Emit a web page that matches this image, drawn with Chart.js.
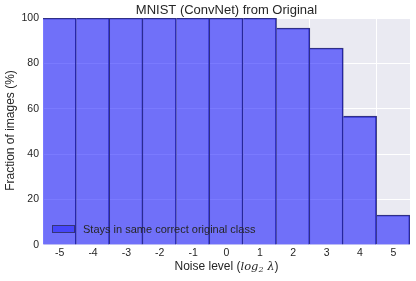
<!DOCTYPE html>
<html>
<head>
<meta charset="utf-8">
<script src="https://cdn.jsdelivr.net/npm/chart.js@4"></script>
<style>
  html, body { margin: 0; padding: 0; background: #fff; }
  #wrap { width: 416px; height: 281px; }
</style>
</head>
<body>
<div id="wrap"><canvas id="chart" width="416" height="281"></canvas></div>
<script>
// noise levels (log2 lambda) and share of images kept in the original class
const noiseLevels = ['-5', '-4', '-3', '-2', '-1', '0', '1', '2', '3', '4', '5'];
const staysPct = [100, 100, 100, 100, 100, 100, 100, 95.6, 86.8, 56.8, 13.2];
const yTicks = [0, 20, 40, 60, 80, 100];
const chartTitle = 'MNIST (ConvNet) from Original';
const yTitle = 'Fraction of images (%)';
const seriesLabel = 'Stays in same correct original class';

const FONT = '"Liberation Sans", Arial, sans-serif';
const TXT = '#262626';
const EDGE = '#363677';

// grey plot background (seaborn look)
const bgPlugin = {
    id: 'bg',
    beforeDraw(chart) {
        const a = chart.chartArea, ctx = chart.ctx;
        ctx.save();
        ctx.fillStyle = '#EAEAF2';
        ctx.fillRect(a.left, a.top, a.right - a.left, a.bottom - a.top);
        ctx.restore();
    }
};

// title, axis titles and legend drawn by hand
const textPlugin = {
    id: 'texts',
    afterDraw(chart) {
        const a = chart.chartArea, ctx = chart.ctx;
        const cx = (a.left + a.right) / 2;
        ctx.save();
        ctx.fillStyle = TXT;
        ctx.textBaseline = 'middle';

        ctx.font = '13px ' + FONT;
        ctx.textAlign = 'center';
        ctx.fillText(chartTitle, cx, 10);

        // y title
        ctx.save();
        ctx.translate(11, (a.top + a.bottom) / 2 - 1);
        ctx.rotate(-Math.PI / 2);
        ctx.font = '12px ' + FONT;
        ctx.fillText(yTitle, 0, 0);
        ctx.restore();

        // x title with math part
        const parts = [
            { t: 'Noise level (', f: '12px ' + FONT, dy: 0 },
            { t: 'log', f: 'italic 11.5px "DejaVu Serif", serif', dy: 0 },
            { t: '2', f: 'italic 8px "DejaVu Serif", serif', dy: 3 },
            { t: ' λ', f: 'italic 11.5px "DejaVu Serif", serif', dy: 0 },
            { t: ')', f: '12px ' + FONT, dy: 0 }
        ];
        let total = 0;
        parts.forEach(p => { ctx.font = p.f; p.w = ctx.measureText(p.t).width; total += p.w; });
        let x = cx - total / 2;
        ctx.textAlign = 'left';
        parts.forEach(p => { ctx.font = p.f; ctx.fillText(p.t, x, 267 + p.dy); x += p.w; });

        // legend inside plot, bottom-left
        const lx = a.left + 9, ly = a.bottom - 20;
        ctx.fillStyle = '#4646fa';
        ctx.fillRect(lx, ly, 23, 8);
        ctx.strokeStyle = EDGE;
        ctx.lineWidth = 1;
        ctx.strokeRect(lx + 0.5, ly + 0.5, 22, 7);
        ctx.fillStyle = TXT;
        ctx.font = '11px ' + FONT;
        ctx.fillText(chart.data.datasets[0].label, lx + 31, ly + 4.5);
        ctx.restore();
    }
};

new Chart(document.getElementById('chart'), {
    type: 'bar',
    data: {
        labels: noiseLevels,
        datasets: [{
            label: seriesLabel,
            data: staysPct,
            backgroundColor: 'rgba(0, 0, 255, 0.52)',
            borderColor: EDGE,
            borderSkipped: false,
            borderWidth: c => {
                const d = c.dataset.data;
                const prev = c.dataIndex > 0 ? d[c.dataIndex - 1] : null;
                return { top: 1, right: 1, bottom: 0, left: (prev !== null && prev < d[c.dataIndex]) ? 1 : 0 };
            },
            barPercentage: 1,
            categoryPercentage: 1
        }]
    },
    options: {
        responsive: false,
        animation: false,
        layout: { padding: { top: 18, right: 6, left: 0, bottom: 0 } },
        plugins: { legend: { display: false }, title: { display: false }, tooltip: { enabled: false } },
        scales: {
            x: {
                grid: {
                    offset: true,
                    drawTicks: false,
                    color: c => (c.index % 2 === 0 ? '#ffffff' : 'rgba(0,0,0,0)'),
                    lineWidth: 1
                },
                border: { display: false },
                ticks: { color: TXT, font: { family: FONT, size: 10.5 }, padding: 2 },
                afterFit: s => { s.height = 36; }
            },
            y: {
                min: 0,
                max: 100,
                afterBuildTicks: s => { s.ticks = yTicks.map(v => ({ value: v })); },
                grid: { color: '#ffffff', lineWidth: 1, drawTicks: false },
                border: { display: false },
                ticks: { color: TXT, font: { family: FONT, size: 10.5 }, padding: 4 },
                afterFit: s => { s.width = 43; }
            }
        }
    },
    plugins: [bgPlugin, textPlugin]
});
</script>
</body>
</html>
